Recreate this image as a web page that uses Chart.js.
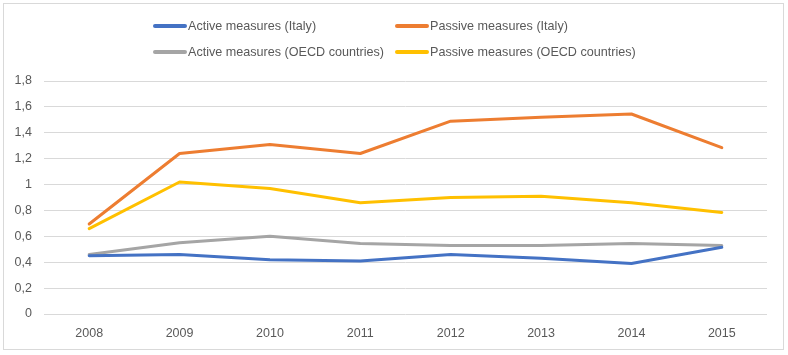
<!DOCTYPE html>
<html>
<head>
<meta charset="utf-8">
<script src="https://cdn.jsdelivr.net/npm/chart.js@4/dist/chart.umd.min.js"></script>
<style>
  html, body { margin: 0; padding: 0; background: #fff; }
  #wrap { position: relative; width: 788px; height: 355px; }
  #frame { position: absolute; left: 3px; top: 3px; width: 779px; height: 345px; border: 1px solid #d9d9d9; pointer-events: none; }
  #legend { position: absolute; left: 0; top: 0; width: 788px; height: 70px; font-family: "Liberation Sans", sans-serif; font-size: 12.6px; color: #595959; }
  .item { position: absolute; height: 20px; line-height: 20px; white-space: nowrap; }
  .item .sw { position: absolute; left: 0; top: 8px; width: 34px; height: 4px; border-radius: 2px; }
  .item .tx { position: absolute; left: 35px; top: 0; }
  canvas { position: absolute; left: 0; top: 0; }
</style>
</head>
<body>
<div id="wrap">
  <canvas id="c" width="788" height="355"></canvas>
  <div id="legend"></div>
  <div id="frame"></div>
</div>
<script>
const years = ["2008", "2009", "2010", "2011", "2012", "2013", "2014", "2015"];
const activeItaly = [0.45, 0.46, 0.42, 0.41, 0.46, 0.43, 0.39, 0.515];
const passiveItaly = [0.695, 1.24, 1.31, 1.24, 1.49, 1.52, 1.545, 1.285];
const activeOECD = [0.46, 0.55, 0.60, 0.545, 0.53, 0.53, 0.545, 0.53];
const passiveOECD = [0.66, 1.02, 0.97, 0.86, 0.90, 0.91, 0.86, 0.785];
const seriesNames = ["Active measures (Italy)", "Passive measures (Italy)", "Active measures (OECD countries)", "Passive measures (OECD countries)"];
const seriesColors = ["#4472c4", "#ed7d31", "#a5a5a5", "#ffc000"];

const tickFont = { family: "'Liberation Sans', sans-serif", size: 12.5 };

function ds(i, data) {
  return {
    label: seriesNames[i], data: data,
    borderColor: seriesColors[i], backgroundColor: seriesColors[i],
    borderWidth: 3, pointRadius: 0, tension: 0, fill: false,
    borderCapStyle: 'round', borderJoinStyle: 'round'
  };
}

const chart = new Chart(document.getElementById('c'), {
  type: 'line',
  data: {
    labels: years,
    datasets: [ds(0, activeItaly), ds(1, passiveItaly), ds(2, activeOECD), ds(3, passiveOECD)]
  },
  options: {
    responsive: false, animation: false,
    layout: { padding: { top: 81, right: 21, bottom: 0, left: 0 } },
    plugins: { legend: { display: false }, tooltip: { enabled: false } },
    scales: {
      x: {
        offset: true,
        grid: { display: false, drawTicks: false },
        border: { display: false },
        ticks: { color: '#595959', font: tickFont, padding: 12, maxRotation: 0 },
        afterFit: s => { s.height = 41; }
      },
      y: {
        min: 0, max: 1.8,
        grid: { color: '#d9d9d9', lineWidth: 1, drawTicks: false },
        border: { display: false },
        ticks: { stepSize: 0.2, color: '#595959', font: tickFont, padding: 12,
          callback: v => String(Math.round(v * 10) / 10).replace('.', ',') },
        afterFit: s => { s.width = 44; }
      }
    }
  }
});

// HTML legend built from the chart's datasets
const legendPos = [[153, 16], [395, 16], [153, 42], [395, 42]];
const lg = document.getElementById('legend');
chart.data.datasets.forEach((d, i) => {
  const it = document.createElement('div');
  it.className = 'item';
  it.style.left = legendPos[i][0] + 'px';
  it.style.top = legendPos[i][1] + 'px';
  const sw = document.createElement('div');
  sw.className = 'sw'; sw.style.background = d.borderColor;
  const tx = document.createElement('div');
  tx.className = 'tx'; tx.textContent = d.label;
  it.appendChild(sw); it.appendChild(tx);
  lg.appendChild(it);
});
</script>
</body>
</html>
